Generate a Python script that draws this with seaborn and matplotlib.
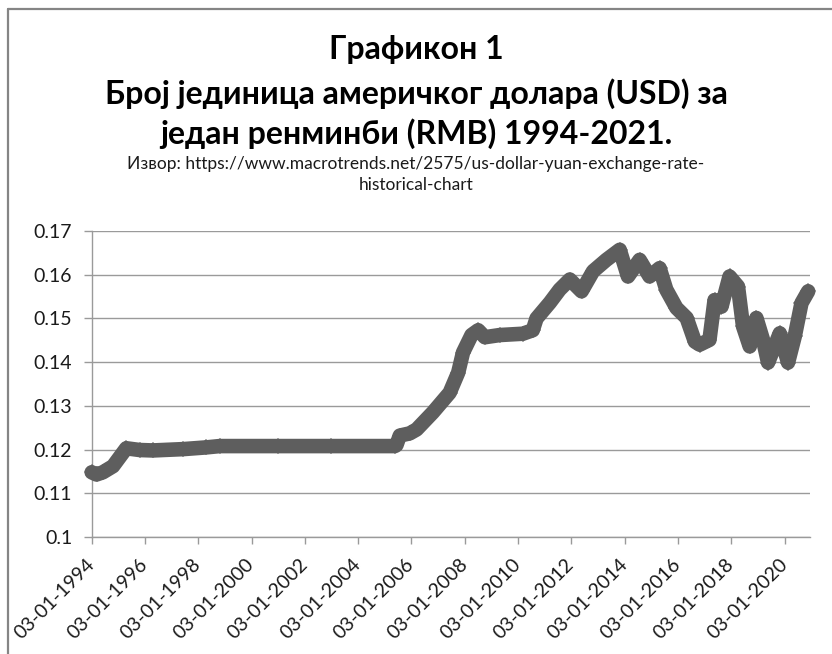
import matplotlib
matplotlib.use("Agg")
import matplotlib.pyplot as plt
import matplotlib.transforms as mtransforms
from matplotlib.lines import Line2D
import pandas as pd
import seaborn as sns

# ---- data ----
dates = [
    "1994-01-03", "1994-03-10", "1994-06-05", "1994-10-22", "1995-04-22",
    "1995-10-22", "1996-04-20", "1997-06-06", "1998-04-23", "1998-10-23",
    "2001-01-01", "2003-01-01", "2005-05-19", "2005-06-10", "2005-07-27",
    "2005-12-09", "2006-03-14", "2006-10-23", "2007-06-10", "2007-10-05",
    "2007-12-10", "2008-04-05", "2008-07-05", "2008-10-05", "2009-04-27",
    "2010-03-08", "2010-07-23", "2010-09-13", "2011-03-14", "2011-07-27",
    "2011-12-13", "2012-05-22", "2012-10-27", "2013-04-27", "2013-10-27",
    "2014-02-17", "2014-07-27", "2014-12-10", "2015-04-27", "2015-07-27",
    "2015-12-13", "2016-05-01", "2016-08-22", "2016-10-27", "2017-03-10",
    "2017-05-19", "2017-08-22", "2017-12-10", "2018-04-05", "2018-06-13",
    "2018-09-13", "2018-12-13", "2019-03-14", "2019-05-22", "2019-10-30",
    "2020-02-20", "2020-05-22", "2020-08-22", "2020-11-22",
]
usd_per_rmb = [
    0.1148, 0.1143, 0.1148, 0.1162, 0.1203,
    0.1199, 0.1198, 0.1201, 0.1205, 0.1208,
    0.1208, 0.1208, 0.1208, 0.1210, 0.1232,
    0.1237, 0.1246, 0.1285, 0.1330, 0.1376,
    0.1422, 0.1462, 0.1473, 0.1457, 0.1462,
    0.1465, 0.1473, 0.1500, 0.1536, 0.1566,
    0.1589, 0.1562, 0.1608, 0.1634, 0.1657,
    0.1596, 0.1634, 0.1596, 0.1615, 0.1566,
    0.1524, 0.1501, 0.1447, 0.1440, 0.1451,
    0.1542, 0.1527, 0.1596, 0.1573, 0.1482,
    0.1436, 0.1501, 0.1451, 0.1399, 0.1466,
    0.1399, 0.1459, 0.1535, 0.1562,
]
x_tick_labels = ["03-01-1994", "03-01-1996", "03-01-1998", "03-01-2000",
                 "03-01-2002", "03-01-2004", "03-01-2006", "03-01-2008",
                 "03-01-2010", "03-01-2012", "03-01-2014", "03-01-2016",
                 "03-01-2018", "03-01-2020"]
y_ticks = [0.10, 0.11, 0.12, 0.13, 0.14, 0.15, 0.16, 0.17]
y_tick_labels = ["0.1", "0.11", "0.12", "0.13", "0.14", "0.15", "0.16", "0.17"]

title_lines = ["Графикон 1",
               "Број јединица америчког долара (USD) за",
               "један ренминби (RMB) 1994-2021."]
source_lines = ["Извор: https://www.macrotrends.net/2575/us-dollar-yuan-exchange-rate-",
                "historical-chart"]

df = pd.DataFrame({"date": pd.to_datetime(dates), "value": usd_per_rmb})

# ---- style ----
sns.set_theme(style="white")
FONT = ["Lato", "DejaVu Sans"]
plt.rcParams["font.family"] = FONT

W, H = 832, 654
fig = plt.figure(figsize=(W / 100, H / 100), dpi=100)
fig.patch.set_facecolor("white")

# chart border (left + top visible)
bc = "#858585"
fig.add_artist(Line2D([8 / W, 8 / W], [0, 1 - 9 / H], color=bc, lw=1.6,
                      transform=fig.transFigure))
fig.add_artist(Line2D([8 / W, 1], [1 - 9 / H, 1 - 9 / H], color=bc, lw=1.6,
                      transform=fig.transFigure))

left, right, top, bottom = 91.7, 810, 231, 537
ax = fig.add_axes([left / W, 1 - bottom / H, (right - left) / W, (bottom - top) / H])

sns.lineplot(data=df, x="date", y="value", ax=ax, color="#5e5e5e",
             linewidth=10.5, marker="D", markersize=8.5, markeredgewidth=0,
             solid_joinstyle="round", clip_on=False, zorder=5)

ax.set_ylim(0.10, 0.17)
ax.set_xlim(pd.Timestamp("1994-01-03"), pd.Timestamp("2020-12-17"))
ax.set_yticks(y_ticks)
ax.set_yticklabels(y_tick_labels)
tick_dates = [pd.to_datetime(s, format="%d-%m-%Y") for s in x_tick_labels]
ax.set_xticks(tick_dates)
ax.set_xticklabels(x_tick_labels, rotation=45, ha="right", va="center",
                   rotation_mode="anchor")
shift = mtransforms.ScaledTranslation(5 / 100, 0, fig.dpi_scale_trans)
for lab in ax.get_xticklabels():
    lab.set_transform(lab.get_transform() + shift)

ax.set_xlabel("")
ax.set_ylabel("")
grid_c = "#9a9a9a"
ax.yaxis.grid(True, color=grid_c, lw=1.0)
ax.xaxis.grid(False)
ax.set_axisbelow(True)
for s in ["top", "right"]:
    ax.spines[s].set_visible(False)
for s in ["left", "bottom"]:
    ax.spines[s].set_color(grid_c)
    ax.spines[s].set_linewidth(1.0)

ax.tick_params(axis="y", which="major", direction="out", length=6, width=1.0,
               color=grid_c, pad=8, labelsize=14, labelcolor="#1a1a1a", left=True)
ax.tick_params(axis="x", which="major", direction="out", length=5, width=1.0,
               color=grid_c, pad=13, labelsize=14, labelcolor="#1a1a1a", bottom=True)

# ---- titles ----
title_y = [49, 94, 134]
for t, yy in zip(title_lines, title_y):
    fig.text(0.5, 1 - yy / H, t, ha="center", va="center", fontsize=23,
             fontweight="bold", color="#000000", family=FONT)
src_y = [164, 185]
for t, yy in zip(source_lines, src_y):
    fig.text(0.5, 1 - yy / H, t, ha="center", va="center", fontsize=12.5,
             color="#1a1a1a", family=FONT)

fig.savefig("out.png", dpi=100, facecolor="white")
